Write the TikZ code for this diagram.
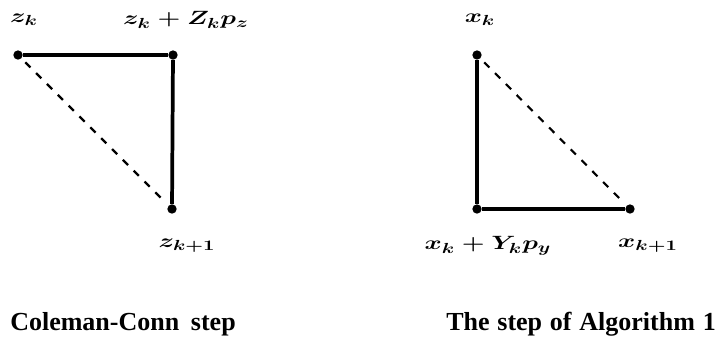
\documentclass[tikz,border=0pt]{standalone}
\usepackage{amsmath,amssymb}
\usepackage{fontspec}
\setmainfont{Liberation Serif}
\usepackage{tikz}
\usetikzlibrary{positioning}
\newcommand\captfont{\fontsize{19.5}{22}\selectfont\bfseries\spaceskip=0.45em\relax}

\begin{document}
\begin{tikzpicture}[x=0.75pt,y=-0.75pt,
dot/.style={circle,fill=black,inner sep=0pt,minimum size=7pt},
edge/.style={line width=2.8pt},
diag/.style={line width=1.6pt,dash pattern=on 5.5pt off 6pt,shorten <=4pt,shorten >=4pt},
lab/.style={font=\fontsize{15.5}{17}\selectfont\boldmath,inner sep=0pt,xscale=1.36},
capt/.style={font=\captfont,inner sep=0pt}]
\useasboundingbox (0,0) rectangle (727,340);
% Coleman-Conn step
\node[dot] (zk) at (18,55) {};
\node[dot] (zc) at (173,55) {};
\node[dot] (zn) at (172,209) {};
\draw[edge] (zk)--(zc); \draw[edge] (zc)--(zn);
\draw[diag] (zk)--(zn);
\node[lab] (lzk) at (24,20) {$z_k$};
\node[lab] (lzc) at (186,20) {$z_k+Z_kp_z$};
\node[lab] (lzn) at (187,246) {$z_{k+1}$};
% step of Algorithm 1
\node[dot] (xk) at (477,55) {};
\node[dot] (xc) at (477,209) {};
\node[dot] (xn) at (630,209) {};
\draw[edge] (xk)--(xc); \draw[edge] (xc)--(xn);
\draw[diag] (xk)--(xn);
\node[lab] (lxk) at (480,20) {$x_k$};
\node[lab] (lxc) at (488,246) {$x_k+Y_kp_y$};
\node[lab] (lxn) at (648,246) {$x_{k+1}$};
% captions
\node[capt,anchor=base west] (c1) at (10,330) {Coleman-Conn step};
\node[capt,anchor=base west] (c2) at (446,330) {\spaceskip=0.3em\relax The step of Algorithm 1};
\end{tikzpicture}
\end{document}
